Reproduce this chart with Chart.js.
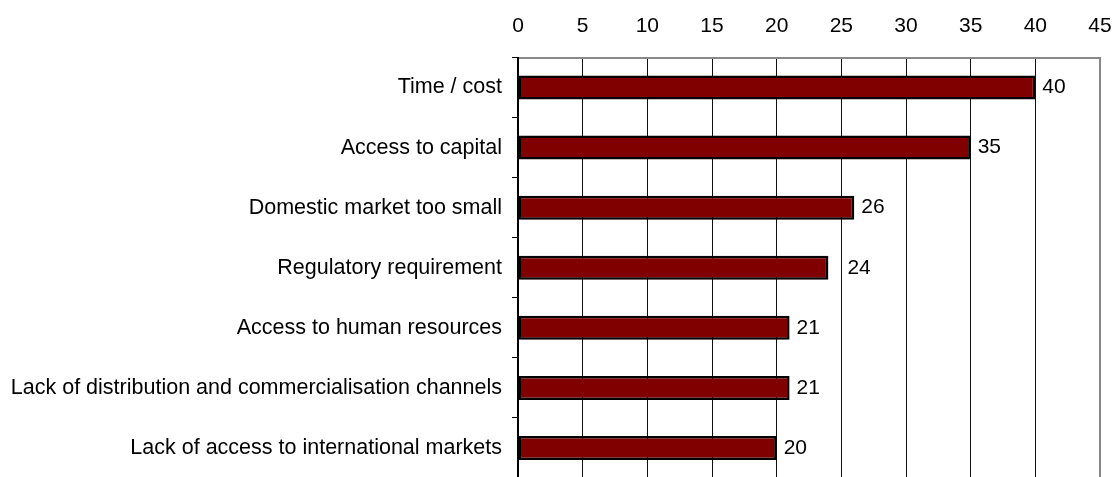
<!DOCTYPE html>
<html>
<head>
<meta charset="utf-8">
<script src="https://cdn.jsdelivr.net/npm/chart.js@4/dist/chart.umd.min.js"></script>
<style>
    html, body { margin: 0; padding: 0; background: #fff; overflow: hidden; }
    #wrap { width: 1114px; height: 478px; position: relative; }
</style>
</head>
<body>
<div id="wrap"><canvas id="barChart"></canvas></div>
<script>
var categories = [
    "Time / cost",
    "Access to capital",
    "Domestic market too small",
    "Regulatory requirement",
    "Access to human resources",
    "Lack of distribution and commercialisation channels",
    "Lack of access to international markets"
];
var values = [40, 35, 26, 24, 21, 21, 20];
var xTicks = [0, 5, 10, 15, 20, 25, 30, 35, 40, 45];

var fontFamily = "'Liberation Sans', Arial, Helvetica, sans-serif";

// value labels just right of each bar end (the 24 one sits past the gridline, as in the original)
var valueLabels = {
    id: 'valueLabels',
    afterDatasetsDraw: function(chart) {
        var ctx = chart.ctx;
        var meta = chart.getDatasetMeta(0);
        var gaps = [7, 7, 7, 19, 7, 7, 7];
        ctx.save();
        ctx.font = "21px " + fontFamily;
        ctx.fillStyle = "#000";
        ctx.textAlign = "left";
        ctx.textBaseline = "middle";
        for (var i = 0; i < meta.data.length; i++) {
            var bar = meta.data[i];
            ctx.fillText(values[i], bar.x + gaps[i], bar.y);
        }
        ctx.restore();
    }
};

var chart = new Chart(document.getElementById('barChart'), {
    type: 'bar',
    data: {
        labels: categories,
        datasets: [{
            data: values,
            backgroundColor: '#800000',
            borderColor: '#000',
            borderWidth: 2.5,
            borderSkipped: false,
            barPercentage: 0.4,
            categoryPercentage: 1.0
        }]
    },
    options: {
        indexAxis: 'y',
        responsive: true,
        maintainAspectRatio: false,
        animation: false,
        layout: { padding: { top: 0, right: 14, bottom: 0, left: 0 } },
        plugins: {
            legend: { display: false },
            tooltip: { enabled: false }
        },
        scales: {
            x: {
                position: 'top',
                min: 0,
                max: 45,
                afterBuildTicks: function(scale) {
                    scale.ticks = xTicks.map(function(v) { return { value: v }; });
                },
                afterFit: function(scale) {
                    scale.height = 57.5;
                    scale.paddingLeft = 0;
                    scale.paddingRight = 0;
                },
                grid: {
                    drawTicks: false,
                    color: function(c) { return c.tick && c.tick.value === 45 ? '#888' : '#111'; },
                    lineWidth: function(c) { return c.tick && c.tick.value === 45 ? 2 : 1; }
                },
                border: { display: true, color: '#888', width: 2 },
                ticks: {
                    padding: 19,
                    color: '#000',
                    font: { family: fontFamily, size: 21 }
                }
            },
            y: {
                afterFit: function(scale) {
                    scale.width = 518;
                    scale.paddingTop = 0;
                    scale.paddingBottom = 0;
                },
                grid: {
                    offset: true,
                    drawOnChartArea: false,
                    drawTicks: true,
                    tickLength: 6,
                    color: '#000'
                },
                border: { display: true, color: '#000', width: 2 },
                ticks: {
                    padding: 10,
                    color: '#000',
                    font: { family: fontFamily, size: 21.5 }
                }
            }
        }
    },
    plugins: [valueLabels]
});
</script>
</body>
</html>
